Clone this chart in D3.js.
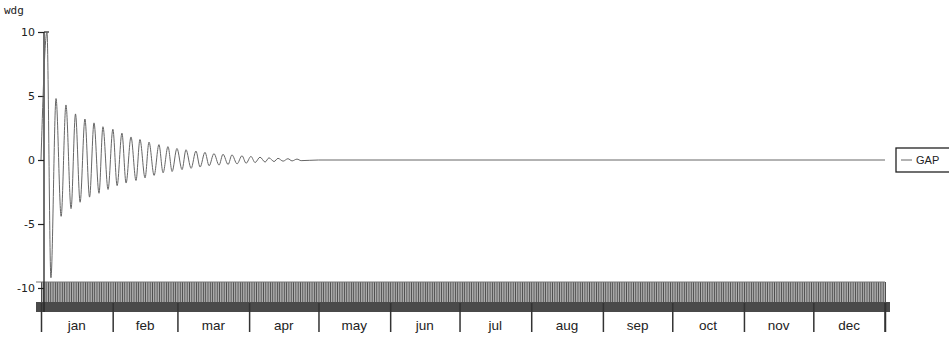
<!DOCTYPE html>
<html><head><meta charset="utf-8">
<script src="https://cdn.jsdelivr.net/npm/d3@7"></script>
<style>body{margin:0;background:#fff}svg{display:block}</style>
</head><body>
<script>
// Data: day offset from 1 Jan and GAP value at the turning points of the damped oscillation
const days = [0, 2.6, 4.3, 6.5, 8.7, 10.8, 13, 14.9, 16.9, 19, 21, 22.9, 25.1, 26.8, 29, 31.1, 32.9, 35, 36.8, 38.9, 41.1, 42.8, 45, 46.7, 48.9, 51, 52.8, 54.9, 56.7, 58.8, 61, 62.7, 64.9, 67, 68.8, 70.9, 72.7, 74.8, 77, 78.7, 80.9, 82.6, 84.8, 86.9, 88.7, 90.8, 92.6, 94.7, 96.9, 98.6, 100.8, 102.5, 104.7, 106.8, 108.6, 110.7, 112.5, 120, 365];
const gapValues = [0, 10, -9.2, 4.8, -4.4, 4.3, -3.8, 3.6, -3.3, 3.2, -2.9, 2.9, -2.6, 2.6, -2.3, 2.4, -2.0, 2.1, -1.8, 1.8, -1.6, 1.6, -1.4, 1.4, -1.2, 1.2, -1.0, 1.05, -0.9, 0.9, -0.75, 0.8, -0.65, 0.7, -0.55, 0.6, -0.45, 0.5, -0.4, 0.45, -0.35, 0.4, -0.3, 0.33, -0.25, 0.28, -0.2, 0.22, -0.16, 0.17, -0.12, 0.13, -0.09, 0.1, -0.07, 0.07, -0.05, 0, 0];
const yTicks = [10, 5, 0, -5, -10];
const yTickLabels = ["10", "5", "0", "-5", "-10"];
const monthLabels = ["jan","feb","mar","apr","may","jun","jul","aug","sep","oct","nov","dec"];
const seriesName = "GAP";
const yUnit = "wdg";

const W = 949, H = 339;
const svg = d3.select("body").append("svg").attr("width", W).attr("height", H);

const start = new Date(2001, 0, 1), end = new Date(2002, 0, 1);
const x = d3.scaleTime().domain([start, end]).range([41, 885]);
const y = d3.scaleLinear().domain([-10, 10]).range([288, 32]);

// dense time band
const band = svg.append("g").attr("transform", "translate(0,303)");
band.call(d3.axisBottom(x).ticks(d3.timeHour.every(12)).tickSize(-21).tickFormat(""))
  .call(g => g.select(".domain").remove())
  .call(g => g.selectAll("line").attr("stroke", "#8a8a8a").attr("stroke-width", 0.8));
const band2 = svg.append("g").attr("transform", "translate(0,303)");
band2.call(d3.axisBottom(x).ticks(d3.timeDay.every(1)).tickSize(-21).tickFormat(""))
  .call(g => g.select(".domain").remove())
  .call(g => g.selectAll("line").attr("stroke", "#444").attr("stroke-width", 0.9));
svg.append("line").attr("x1", 36).attr("x2", 885).attr("y1", 282).attr("y2", 282)
  .attr("stroke", "#777").attr("stroke-width", 1);
svg.append("rect").attr("x", 36).attr("y", 302).attr("width", 854).attr("height", 10)
  .attr("fill", "#4a4a4a");

// month ticks
const mAxis = svg.append("g").attr("transform", "translate(0,303)");
mAxis.call(d3.axisBottom(x).ticks(d3.timeMonth.every(1)).tickSize(29).tickFormat(""))
  .call(g => g.select(".domain").remove())
  .call(g => g.selectAll("line").attr("stroke", "#333").attr("stroke-width", 1.5));
svg.append("line").attr("x1", x(end)).attr("x2", x(end)).attr("y1", 303).attr("y2", 332)
  .attr("stroke", "#333").attr("stroke-width", 1.5);

const months = d3.timeMonth.range(start, end);
svg.append("g").selectAll("text").data(months).join("text")
  .attr("x", (d, i) => (x(d) + x(d3.timeMonth.offset(d, 1))) / 2)
  .attr("y", 330)
  .attr("text-anchor", "middle")
  .attr("font-family", "Liberation Sans, Arial, sans-serif")
  .attr("font-size", 13.5)
  .attr("fill", "#222")
  .text((d, i) => monthLabels[i]);

// y axis
const yAxis = svg.append("g").attr("transform", "translate(44,0)");
yAxis.call(d3.axisLeft(y).tickValues(yTicks).tickSize(6).tickPadding(3).tickFormat((d, i) => yTickLabels[i]))
  .call(g => g.select(".domain").attr("d", "M0,32V312").attr("stroke", "#222").attr("stroke-width", 1.3))
  .call(g => g.selectAll("line").attr("stroke", "#222").attr("stroke-width", 1.2))
  .call(g => g.selectAll("text").attr("font-family", "DejaVu Sans, Verdana, sans-serif").attr("font-size", 11).attr("fill", "#222"));
yAxis.append("line").attr("x1", 0).attr("x2", 5).attr("y1", 32).attr("y2", 32).attr("stroke", "#222").attr("stroke-width", 1.2);

svg.append("text").attr("x", 4).attr("y", 14)
  .attr("font-family", "DejaVu Sans Mono, monospace").attr("font-size", 11).attr("fill", "#222")
  .text(yUnit);

// series line
const pts = days.map((d, i) => [d3.timeHour.offset(start, Math.round(d * 24)), gapValues[i]]);
svg.append("path").datum(pts)
  .attr("fill", "none").attr("stroke", "#666").attr("stroke-width", 1)
  .attr("d", d3.line().curve(d3.curveMonotoneX).x(d => x(d[0])).y(d => y(d[1])));

// legend
const lg = svg.append("g");
lg.append("rect").attr("x", 896).attr("y", 148).attr("width", 60).attr("height", 24)
  .attr("fill", "#fff").attr("stroke", "#222").attr("stroke-width", 1.3);
lg.append("line").attr("x1", 901).attr("x2", 912).attr("y1", 160).attr("y2", 160)
  .attr("stroke", "#666").attr("stroke-width", 1);
lg.append("text").attr("x", 916).attr("y", 164)
  .attr("font-family", "Liberation Sans, Arial, sans-serif").attr("font-size", 11).attr("fill", "#222")
  .text(seriesName);
</script>
</body></html>
